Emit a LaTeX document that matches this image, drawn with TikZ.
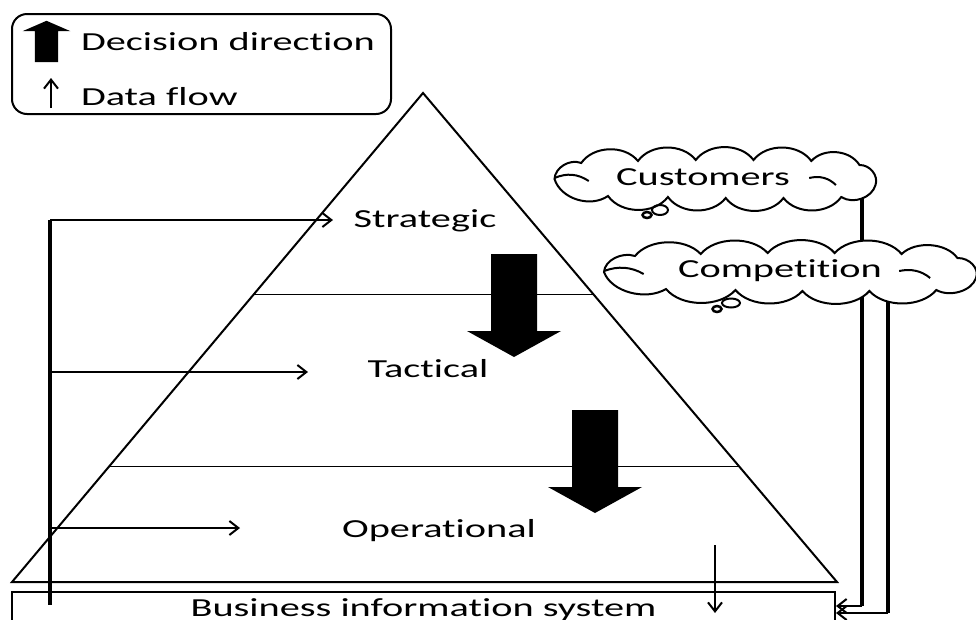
\documentclass[tikz,border=0pt]{standalone}
\usepackage{fontspec}
\setmainfont{Carlito}[FakeStretch=1.55, Ligatures=NoCommon]
\usetikzlibrary{arrows.meta,calc}

\begin{document}
\begin{tikzpicture}[x=1pt, y=-1pt, line width=2pt,
    >={Straight Barb[length=9pt,width=14pt]},
    every node/.style={font=\fontsize{26}{30}\selectfont, inner sep=2pt},
    vline/.style={line width=3.5pt},
    divider/.style={line width=1pt},
    decarrow/.pic={\fill (-23,0) -- (23,0) -- (23,77) -- (47,77) -- (0,103) -- (-47,77) -- (-23,77) -- cycle;},
    cloudshape/.pic={\filldraw[fill=white, bend left=55] (-150,0) to (-125,-16) to (-72,-18) to (-18,-19)
        to (36,-19) to (90,-18) to (135,-14) to (150,6) to (118,18) to (64,19) to (10,19)
        to (-44,18) to (-100,17) to (-150,0) -- cycle;
        \draw (-150,-1) to[bend left=30] (-118,2);
        \draw (88,-1) to[bend left=30] (113,6);}]
    \useasboundingbox (0,0) rectangle (976,619);
    \clip (0,0) rectangle (976,619);

    % Legend
    \draw[rounded corners=15pt] (12,14) rectangle (391,114);
    \pic[xscale=0.51, yscale=-0.4] at (46.5,62) {decarrow};
    \node[anchor=west] (decl) at (78,42) {Decision direction};
    \coordinate (legb) at (51,108);
    \coordinate (legt) at (51,78);
    \draw[->] (legb) -- (legt);
    \node[anchor=west] (datal) at (78,97) {Data flow};

    % Pyramid
    \coordinate (apex) at (423,93);
    \coordinate (bl) at (12,582);
    \coordinate (br) at (837,582);
    \draw (apex) -- (br) -- (bl) -- cycle;
    \draw[divider] ($(apex)!0.413!(bl)$) -- ($(apex)!0.413!(br)$);
    \draw[divider] ($(apex)!0.763!(bl)$) -- ($(apex)!0.763!(br)$);
    \node (strat) at (425,221) {Strategic};
    \node (tact) at (428,369) {Tactical};
    \node (oper) at (439,531) {Operational};

    % Business information system
    \node[draw, minimum width=823pt, minimum height=36pt, anchor=north] (bis) at (423.5,591) {Business information system};

    % Decision direction
    \pic at (514,254) {decarrow};
    \pic at (595,410) {decarrow};

    % Data flow into the levels
    \coordinate (ltop) at (50,220);
    \coordinate (lbot) at (50,605);
    \coordinate (sin) at (333,220);
    \coordinate (tl) at (50,372);
    \coordinate (tin) at (308,372);
    \coordinate (ol) at (50,528);
    \coordinate (oin) at (240,528);
    \draw[vline] (ltop) -- (lbot);
    \draw[->] (ltop) -- (sin);
    \draw[->] (tl) -- (tin);
    \draw[->] (ol) -- (oin);
    \coordinate (od) at (715,545);
    \coordinate (odin) at (715,613);
    \draw[->] (od) -- (odin);

    % Data flow from outside
    \coordinate (custout) at (862,195);
    \coordinate (custc) at (862,606);
    \coordinate (compout) at (888,300);
    \coordinate (compc) at (888,613);
    \draw[vline] (custout) -- (custc);
    \draw[->] (custc) -- ([yshift=-15pt]bis.north east);
    \draw[vline] (compout) -- (compc);
    \draw[->] (compc) -- ([yshift=-22pt]bis.north east);

    % Clouds
    \pic[xscale=1.07] at (715,179) {cloudshape};
    \draw (660,210) ellipse (8 and 5);
    \draw[line width=2.5pt] (647,215) ellipse (4.5 and 3);
    \node (cust) at (703,177) {Customers};
    \pic[xscale=1.24] at (790,272) {cloudshape};
    \draw (731,303) ellipse (9 and 4.5);
    \draw[line width=2.5pt] (717,309) ellipse (4.5 and 3);
    \node (comp) at (780,271) {Competition};
\end{tikzpicture}
\end{document}
